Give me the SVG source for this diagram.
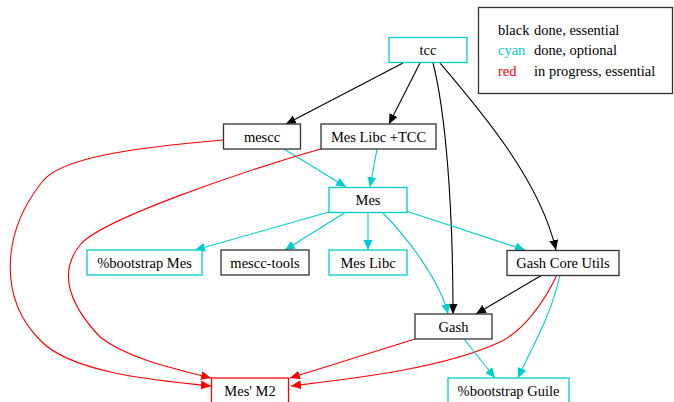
<svg xmlns="http://www.w3.org/2000/svg" width="674" height="402" viewBox="0 0 674 402">
<style>
.n rect{fill:#fff;stroke-width:1.3}
.k rect{stroke:#333}
.c rect{stroke:#00cdcd}
.r rect{stroke:#ff0000}
text{font-family:Liberation Serif;font-size:14.5px;fill:#000}
.n text{text-anchor:middle}
.e path{fill:none;stroke-width:1.1}
.ek{stroke:#000;marker-end:url(#ak)}
.ec{stroke:#00cdcd;marker-end:url(#ac)}
.er{stroke:#ff0000;marker-end:url(#ar)}
</style>
<defs>
<marker id="ak" markerUnits="userSpaceOnUse" markerWidth="12" markerHeight="10" refX="10" refY="4.5" orient="auto"><path d="M0,0 L10,4.5 L0,9 Z" fill="#000"/></marker>
<marker id="ac" markerUnits="userSpaceOnUse" markerWidth="12" markerHeight="10" refX="10" refY="4.5" orient="auto"><path d="M0,0 L10,4.5 L0,9 Z" fill="#00cdcd"/></marker>
<marker id="ar" markerUnits="userSpaceOnUse" markerWidth="12" markerHeight="10" refX="10" refY="4.5" orient="auto"><path d="M0,0 L10,4.5 L0,9 Z" fill="#ff0000"/></marker>
</defs>
<rect width="674" height="402" fill="#fff"/>
<g id="legend">
<rect x="478.5" y="7.5" width="194" height="86" fill="#fff" stroke="#333" stroke-width="1.3"/>
<text x="498" y="34.5">black</text><text x="534" y="34.5">done, essential</text>
<text x="498" y="55" style="fill:#00cdcd">cyan</text><text x="534" y="55">done, optional</text>
<text x="498" y="75.5" style="fill:#ff0000">red</text><text x="534" y="75.5">in progress, essential</text>
</g>
<g id="edges" class="e">
<path class="ek" d="M403,63 L286,124"/>
<path class="ek" d="M420,63 L389,124"/>
<path class="ek" d="M433,63 C445,110 453,200 453,314"/>
<path class="ek" d="M440,63 C480,110 540,180 556,250"/>
<path class="ec" d="M284,149 L346,187"/>
<path class="ec" d="M377,149 L370,187"/>
<path class="er" d="M223,140 C130,148 60,158 42,182 C0,235 0,300 40,340 C70,372 150,380 211,386"/>
<path class="er" d="M324,148 C240,172 100,220 80,245 C60,270 65,300 100,337 C130,360 180,370 211,378"/>
<path class="ec" d="M329,212 L195,250"/>
<path class="ec" d="M346,212 L285,250"/>
<path class="ec" d="M368,212 L368,250"/>
<path class="ec" d="M382,212 C405,235 440,280 448,314"/>
<path class="ec" d="M406,211 L525,250"/>
<path class="ek" d="M542,275 L476,314"/>
<path class="er" d="M557,275 C545,300 525,330 500,342 C440,370 340,380 291,386"/>
<path class="ec" d="M560,275 C550,320 530,350 518,378"/>
<path class="er" d="M415,339 L290,378"/>
<path class="ec" d="M464,339 L495,378"/>
</g>
<g id="tcc" class="n c"><rect x="389" y="37.5" width="78" height="25"/><text x="428" y="55">tcc</text></g>
<g id="mescc" class="n k"><rect x="223.5" y="124" width="77" height="25"/><text x="262" y="141.5">mescc</text></g>
<g id="meslibctcc" class="n k"><rect x="321" y="124" width="115" height="25"/><text x="378.5" y="141.5">Mes Libc +TCC</text></g>
<g id="mes" class="n c"><rect x="329" y="187.5" width="78" height="25"/><text x="368" y="205">Mes</text></g>
<g id="bootstrapmes" class="n c"><rect x="87" y="250" width="115" height="25"/><text x="144.5" y="267.5">%bootstrap Mes</text></g>
<g id="mescctools" class="n k"><rect x="221" y="250" width="88" height="25"/><text x="265" y="267.5">mescc-tools</text></g>
<g id="meslibc" class="n c"><rect x="329" y="250" width="78" height="25"/><text x="368" y="267.5">Mes Libc</text></g>
<g id="gashcoreutils" class="n k"><rect x="507" y="250.5" width="112" height="25"/><text x="563" y="268">Gash Core Utils</text></g>
<g id="gash" class="n k"><rect x="415" y="314" width="77" height="25"/><text x="453.5" y="331.5">Gash</text></g>
<g id="mesm2" class="n r"><rect x="211.5" y="378" width="77" height="26"/><text x="250" y="395.5">Mes' M2</text></g>
<g id="bootstrapguile" class="n c"><rect x="448" y="378" width="121" height="26"/><text x="508.5" y="395.5">%bootstrap Guile</text></g>
</svg>
